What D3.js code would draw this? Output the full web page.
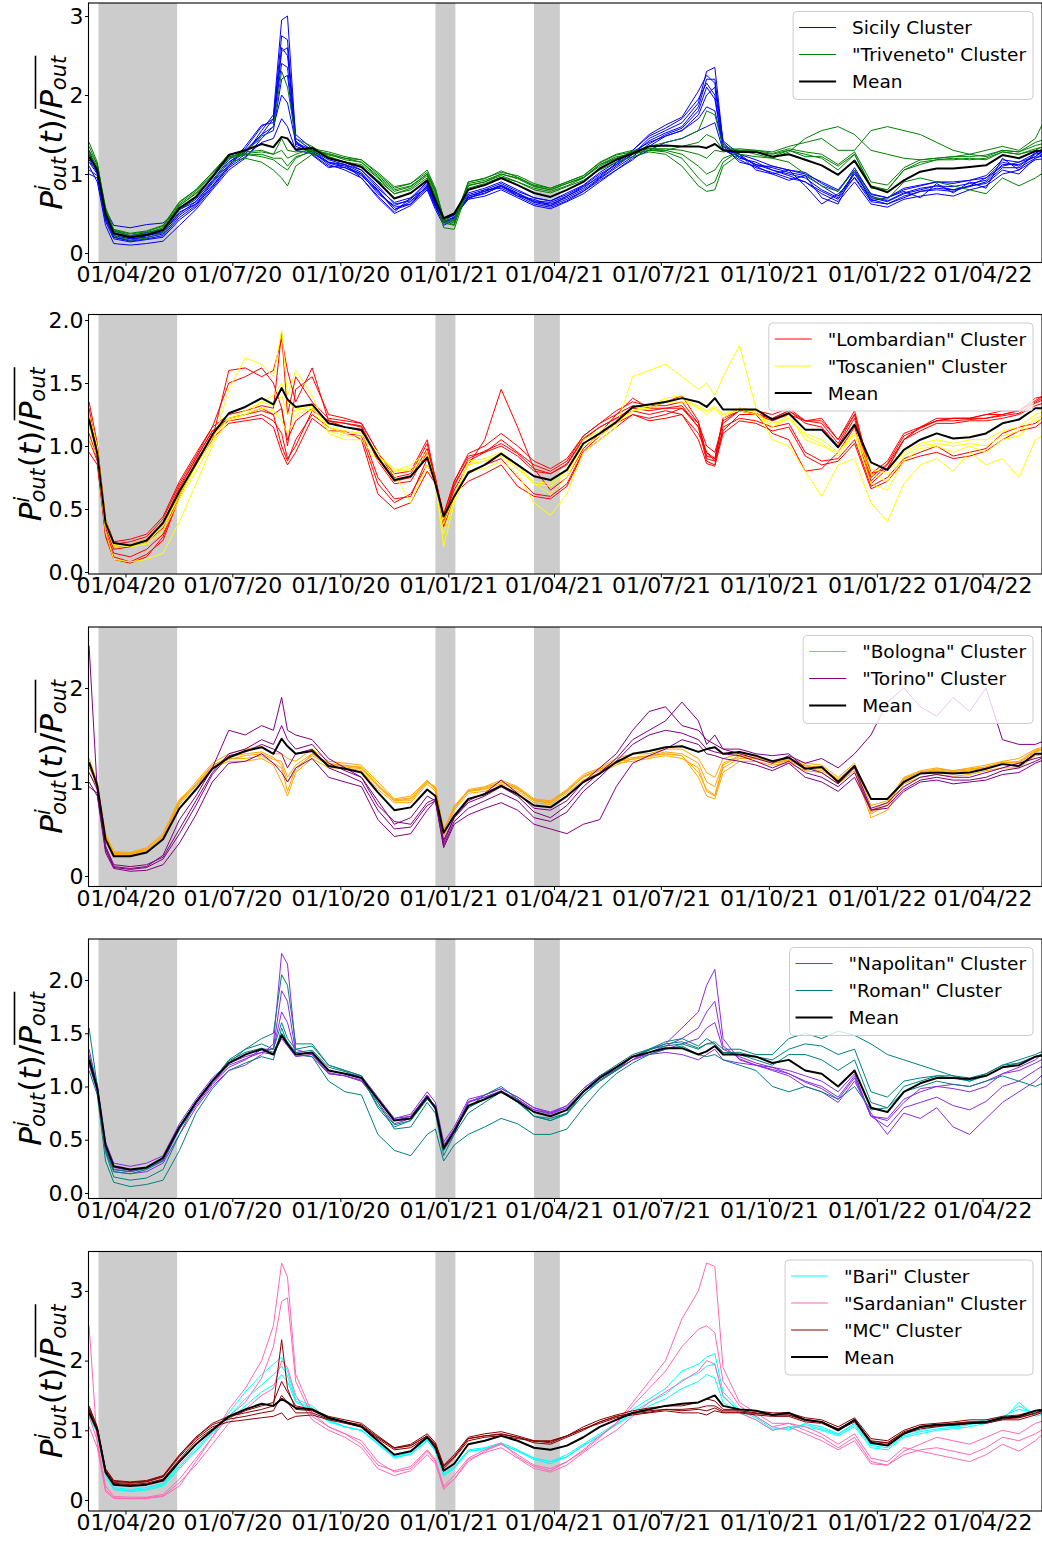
<!DOCTYPE html>
<html>
<head>
<meta charset="utf-8">
<script src="https://cdn.jsdelivr.net/npm/d3@7"></script>
<style>
  body { margin: 0; background: #fff; }
  svg text { font-family: "DejaVu Sans", sans-serif; }
</style>
</head>
<body>
<svg id="chart" width="1042" height="1541"></svg>
<script>
// Sample dates shared by every series
const dates = [
  "2020-03-01","2020-03-08","2020-03-15","2020-03-22","2020-04-05","2020-04-19","2020-05-03","2020-05-17","2020-05-31","2020-06-14","2020-06-28",
  "2020-07-12","2020-07-26","2020-08-05","2020-08-12","2020-08-17","2020-08-24","2020-09-07","2020-09-21","2020-10-05","2020-10-19","2020-11-02",
  "2020-11-16","2020-11-30","2020-12-14","2020-12-21","2020-12-28","2021-01-06","2021-01-18","2021-02-01","2021-02-15","2021-03-01","2021-03-15",
  "2021-03-29","2021-04-12","2021-04-26","2021-05-10","2021-05-24","2021-06-07","2021-06-21","2021-07-05","2021-07-19","2021-08-02","2021-08-09",
  "2021-08-16","2021-08-23","2021-09-06","2021-09-20","2021-10-04","2021-10-18","2021-11-01","2021-11-15","2021-11-29","2021-12-13","2021-12-27",
  "2022-01-10","2022-01-24","2022-02-07","2022-02-21","2022-03-07","2022-03-21","2022-04-04","2022-04-18","2022-05-02","2022-05-16","2022-05-26"
];

// restriction periods (grey bands)
const shadedPeriods = [["2020-03-09", "2020-05-15"], ["2020-12-21", "2021-01-07"], ["2021-03-15", "2021-04-06"]];
const xTickDates = ["2020-04-01","2020-07-01","2020-10-01","2021-01-01","2021-04-01","2021-07-01","2021-10-01","2022-01-01","2022-04-01"];
const xLimits = ["2020-02-29T12:00", "2022-05-21T16:00"];

// y limits and ticks per panel
const yLimits = [[-0.120, 3.165], [-0.016, 2.044], [-0.112, 2.649], [-0.052, 2.385], [-0.158, 3.565]];
const yTicks1 = [0, 1, 2, 3];
const yTicks2 = [0.0, 0.5, 1.0, 1.5, 2.0];
const yTicks3 = [0, 1, 2];
const yTicks4 = [0.0, 0.5, 1.0, 1.5, 2.0];
const yTicks5 = [0, 1, 2, 3];

// ---- Panel 1: Sicily / Triveneto ----
const mean1 = [
  1.22,1.05,0.50,0.25,0.20,0.23,0.29,0.57,0.71,0.96,1.24,
  1.30,1.38,1.34,1.47,1.45,1.31,1.33,1.20,1.15,1.09,0.90,
  0.69,0.76,0.92,0.67,0.44,0.50,0.80,0.86,0.95,0.86,0.76,
  0.71,0.80,0.90,1.07,1.18,1.26,1.35,1.36,1.35,1.35,1.33,
  1.38,1.30,1.28,1.28,1.22,1.25,1.18,1.11,0.99,1.17,0.84,
  0.77,0.92,1.03,1.07,1.07,1.09,1.11,1.24,1.20,1.29,1.30
];
const sicily = [
  [1.30,1.00,0.45,0.20,0.15,0.18,0.22,0.45,0.60,0.85,1.10,
   1.25,1.55,1.75,2.95,3.00,1.45,1.30,1.15,1.10,1.00,0.80,
   0.55,0.65,0.85,0.60,0.40,0.45,0.70,0.75,0.85,0.75,0.65,
   0.62,0.70,0.80,0.95,1.10,1.25,1.45,1.55,1.65,1.90,2.30,
   2.35,1.40,1.20,1.15,1.05,1.00,0.95,0.80,0.70,1.00,0.70,
   0.65,0.75,0.80,0.85,0.80,0.85,0.95,1.15,1.10,1.25,1.30],
  [1.10,0.90,0.35,0.12,0.10,0.12,0.15,0.35,0.55,0.80,1.05,
   1.20,1.45,1.60,2.55,2.60,1.35,1.28,1.12,1.05,0.95,0.70,
   0.50,0.60,0.80,0.55,0.35,0.42,0.72,0.78,0.85,0.72,0.62,
   0.58,0.66,0.78,0.92,1.05,1.18,1.35,1.48,1.55,1.75,2.00,
   2.10,1.35,1.15,1.10,1.00,1.05,0.85,0.62,0.75,0.95,0.65,
   0.62,0.70,0.78,0.80,0.78,0.85,0.88,1.05,1.00,1.20,1.25],
  [1.15,1.00,0.55,0.35,0.32,0.36,0.38,0.55,0.65,0.90,1.15,
   1.30,1.50,1.60,2.00,1.90,1.40,1.25,1.10,1.08,1.00,0.75,
   0.60,0.68,0.88,0.63,0.42,0.48,0.74,0.80,0.88,0.78,0.70,
   0.66,0.74,0.85,1.00,1.12,1.28,1.40,1.48,1.55,1.70,1.85,
   1.80,1.35,1.25,1.10,1.10,1.05,1.00,0.90,0.80,1.05,0.75,
   0.70,0.80,0.85,0.90,0.88,0.92,0.95,1.10,1.15,1.22,1.35],
  [1.00,0.95,0.40,0.18,0.14,0.17,0.20,0.42,0.58,0.82,1.08,
   1.22,1.40,1.45,1.70,1.60,1.30,1.26,1.15,1.12,1.02,0.78,
   0.58,0.62,0.82,0.58,0.38,0.46,0.68,0.72,0.80,0.70,0.60,
   0.56,0.65,0.75,0.90,1.05,1.20,1.30,1.40,1.45,1.55,1.60,
   1.65,1.30,1.22,1.12,1.05,0.98,0.90,0.75,0.65,0.90,0.62,
   0.58,0.68,0.72,0.75,0.72,0.80,0.85,1.00,1.05,1.18,1.20],
  [1.25,1.05,0.42,0.22,0.18,0.20,0.24,0.48,0.62,0.88,1.12,
   1.28,1.50,1.70,2.75,2.70,1.40,1.30,1.18,1.12,1.05,0.85,
   0.62,0.66,0.84,0.62,0.40,0.44,0.72,0.78,0.86,0.76,0.66,
   0.64,0.72,0.82,0.98,1.12,1.25,1.42,1.52,1.60,1.85,2.20,
   2.20,1.38,1.22,1.12,1.08,1.02,0.98,0.85,0.72,1.02,0.72,
   0.66,0.76,0.82,0.85,0.84,0.88,0.92,1.12,1.12,1.22,1.32],
  [1.18,1.02,0.48,0.24,0.19,0.22,0.27,0.50,0.65,0.90,1.15,
   1.28,1.48,1.55,2.20,2.25,1.38,1.28,1.14,1.08,0.98,0.78,
   0.55,0.62,0.86,0.60,0.38,0.44,0.70,0.76,0.84,0.74,0.64,
   0.60,0.68,0.78,0.94,1.08,1.22,1.38,1.50,1.58,1.80,2.10,
   1.95,1.32,1.18,1.08,1.02,0.95,0.90,0.78,0.68,0.96,0.68,
   0.62,0.72,0.78,0.82,0.80,0.84,0.90,1.08,1.08,1.20,1.28],
  [1.05,0.98,0.46,0.20,0.16,0.22,0.26,0.52,0.62,0.84,1.10,
   1.35,1.62,1.65,2.40,2.35,1.42,1.24,1.08,1.12,0.95,0.72,
   0.52,0.70,0.82,0.64,0.42,0.48,0.68,0.80,0.82,0.72,0.68,
   0.60,0.72,0.84,0.96,1.14,1.30,1.48,1.58,1.70,1.95,2.15,
   2.00,1.30,1.25,1.05,1.00,0.92,0.98,0.70,0.62,1.05,0.66,
   0.70,0.78,0.70,0.88,0.76,0.90,0.82,1.20,1.05,1.28,1.22],
  [1.20,1.08,0.52,0.28,0.22,0.26,0.30,0.55,0.68,0.92,1.18,
   1.32,1.60,1.70,2.60,2.50,1.50,1.32,1.20,1.15,1.05,0.82,
   0.64,0.70,0.90,0.64,0.44,0.50,0.76,0.82,0.90,0.80,0.70,
   0.66,0.76,0.86,1.02,1.15,1.30,1.50,1.62,1.72,2.05,2.25,
   2.15,1.42,1.25,1.18,1.10,1.05,1.02,0.88,0.78,1.08,0.74,
   0.70,0.82,0.86,0.90,0.90,0.92,0.98,1.18,1.15,1.26,1.36]
];
const triveneto = [
  [1.25,1.10,0.55,0.28,0.22,0.25,0.32,0.62,0.78,1.00,1.22,
   1.25,1.22,1.18,1.10,1.05,1.20,1.30,1.25,1.18,1.15,0.98,
   0.80,0.85,1.00,0.78,0.45,0.40,0.88,0.92,1.00,0.95,0.85,
   0.80,0.88,0.95,1.12,1.22,1.25,1.30,1.28,1.20,0.95,0.85,
   0.90,1.15,1.30,1.28,1.25,1.30,1.25,1.20,1.05,1.25,0.85,
   0.80,1.05,1.15,1.18,1.20,1.18,1.20,1.28,1.25,1.32,1.35],
  [1.40,1.15,0.50,0.25,0.20,0.24,0.30,0.60,0.75,0.95,1.20,
   1.30,1.45,1.60,2.30,2.10,1.45,1.35,1.22,1.15,1.12,0.95,
   0.75,0.82,0.98,0.72,0.38,0.35,0.85,0.90,0.98,0.90,0.82,
   0.78,0.85,0.95,1.10,1.20,1.28,1.35,1.40,1.45,1.55,1.80,
   1.75,1.35,1.30,1.25,1.20,1.28,1.45,1.55,1.60,1.50,1.30,
   1.25,1.20,1.18,1.20,1.22,1.25,1.22,1.30,1.28,1.40,1.45],
  [1.15,1.05,0.48,0.22,0.16,0.19,0.26,0.55,0.70,0.90,1.15,
   1.20,1.15,1.05,0.95,0.85,1.10,1.25,1.22,1.15,1.10,0.92,
   0.75,0.80,0.95,0.72,0.32,0.30,0.82,0.88,0.96,0.90,0.80,
   0.76,0.84,0.92,1.05,1.15,1.22,1.28,1.25,1.10,0.85,0.78,
   0.80,1.10,1.25,1.22,1.20,1.15,1.00,0.85,0.78,1.05,0.70,
   0.68,0.90,0.95,0.90,0.85,0.80,0.75,0.95,0.85,0.95,1.05],
  [1.30,1.12,0.58,0.30,0.25,0.28,0.35,0.65,0.80,1.02,1.25,
   1.28,1.30,1.25,1.30,1.20,1.25,1.32,1.28,1.22,1.18,1.00,
   0.82,0.88,1.02,0.80,0.42,0.38,0.90,0.95,1.02,0.98,0.88,
   0.82,0.90,0.98,1.15,1.25,1.30,1.32,1.30,1.35,1.40,1.50,
   1.45,1.30,1.32,1.30,1.28,1.35,1.40,1.45,1.30,1.30,1.55,
   1.60,1.55,1.50,1.40,1.30,1.25,1.30,1.35,1.30,1.45,1.75],
  [1.28,1.08,0.52,0.26,0.20,0.23,0.30,0.60,0.76,0.98,1.20,
   1.24,1.25,1.20,1.20,1.10,1.22,1.28,1.24,1.20,1.15,0.96,
   0.78,0.84,1.00,0.76,0.40,0.36,0.86,0.90,1.00,0.94,0.84,
   0.80,0.88,0.96,1.12,1.20,1.26,1.30,1.30,1.25,1.10,1.00,
   1.05,1.20,1.28,1.28,1.22,1.30,1.22,1.22,1.10,1.25,0.82,
   0.80,1.05,1.12,1.18,1.18,1.20,1.18,1.28,1.25,1.30,1.38],
  [1.35,1.12,0.55,0.29,0.24,0.27,0.34,0.64,0.80,1.02,1.22,
   1.26,1.28,1.25,1.45,1.30,1.28,1.30,1.26,1.20,1.18,1.02,
   0.84,0.88,1.05,0.82,0.44,0.42,0.90,0.94,1.04,0.96,0.86,
   0.82,0.90,0.98,1.14,1.24,1.28,1.32,1.32,1.30,1.25,1.20,
   1.30,1.28,1.30,1.30,1.26,1.32,1.28,1.25,1.12,1.28,0.90,
   0.86,1.08,1.18,1.20,1.22,1.22,1.24,1.30,1.28,1.36,1.40]
];

// ---- Panel 2: Lombardian / Toscanien ----
const mean2 = [
  1.21,0.94,0.39,0.23,0.21,0.25,0.39,0.64,0.86,1.09,1.26,
  1.31,1.38,1.33,1.46,1.37,1.31,1.33,1.18,1.15,1.13,0.91,
  0.73,0.76,0.91,0.70,0.44,0.60,0.79,0.85,0.94,0.85,0.76,
  0.73,0.81,1.02,1.10,1.19,1.31,1.33,1.35,1.38,1.35,1.31,
  1.38,1.29,1.29,1.29,1.21,1.26,1.13,1.13,0.99,1.17,0.87,
  0.81,0.97,1.05,1.10,1.06,1.07,1.10,1.18,1.21,1.30,1.30
];
const lombardian = [
  [1.30,0.95,0.35,0.18,0.20,0.24,0.35,0.66,0.90,1.12,1.20,
   1.22,1.25,1.20,1.10,0.90,1.00,1.28,1.20,1.18,1.15,0.88,
   0.70,0.72,0.95,0.75,0.40,0.70,0.88,0.95,1.00,0.92,0.80,
   0.78,0.85,1.05,1.15,1.22,1.28,1.25,1.28,1.25,1.10,0.95,
   0.88,1.12,1.25,1.25,1.22,1.28,1.18,1.15,1.00,1.22,0.72,
   0.85,1.05,1.12,1.18,1.18,1.20,1.20,1.22,1.25,1.32,1.35],
  [1.10,0.90,0.30,0.12,0.08,0.14,0.25,0.60,0.85,1.05,1.60,
   1.62,1.55,1.60,1.85,1.60,1.35,1.62,1.20,1.15,1.12,0.75,
   0.58,0.60,0.90,0.72,0.42,0.65,0.85,1.05,1.45,1.15,0.82,
   0.65,0.75,0.98,1.10,1.25,1.38,1.30,1.35,1.40,1.20,0.90,
   0.88,1.20,1.28,1.25,1.20,1.25,1.20,1.22,1.05,1.25,0.78,
   0.82,1.05,1.15,1.22,1.22,1.22,1.25,1.25,1.28,1.35,1.40],
  [0.95,0.85,0.32,0.15,0.12,0.18,0.30,0.62,0.88,1.08,1.22,
   1.25,1.30,1.25,1.00,0.88,1.05,1.25,1.15,1.10,1.08,0.70,
   0.55,0.62,0.85,0.72,0.38,0.62,0.72,0.78,0.85,0.68,0.60,
   0.58,0.68,0.95,1.05,1.15,1.25,1.22,1.25,1.30,1.15,0.88,
   0.85,1.15,1.22,1.20,1.15,1.18,0.95,0.88,0.90,1.05,0.68,
   0.75,0.90,0.95,1.00,0.92,0.95,0.98,1.10,1.15,1.18,1.25],
  [1.25,1.00,0.40,0.22,0.24,0.28,0.42,0.70,0.92,1.15,1.25,
   1.28,1.32,1.30,1.90,1.25,1.55,1.35,1.22,1.20,1.18,0.95,
   0.75,0.78,1.02,0.72,0.45,0.72,0.92,0.95,1.05,0.95,0.85,
   0.80,0.88,1.08,1.18,1.25,1.32,1.30,1.30,1.32,1.15,0.95,
   0.90,1.22,1.30,1.28,1.25,1.30,1.20,1.20,1.05,1.28,0.78,
   0.88,1.10,1.15,1.20,1.22,1.22,1.22,1.25,1.28,1.38,1.40],
  [1.22,0.98,0.38,0.20,0.22,0.26,0.38,0.68,0.90,1.12,1.22,
   1.25,1.28,1.25,1.30,1.05,1.20,1.30,1.20,1.18,1.16,0.90,
   0.72,0.75,0.98,0.74,0.42,0.68,0.90,0.96,1.02,0.94,0.82,
   0.78,0.86,1.06,1.15,1.22,1.30,1.28,1.30,1.30,1.18,1.00,
   0.95,1.18,1.28,1.26,1.22,1.28,1.20,1.18,1.02,1.25,0.75,
   0.86,1.08,1.14,1.20,1.20,1.21,1.22,1.24,1.26,1.34,1.38],
  [1.05,0.88,0.28,0.10,0.07,0.12,0.28,0.60,0.86,1.06,1.18,
   1.20,1.22,1.15,0.95,0.85,0.95,1.22,1.12,1.12,1.05,0.62,
   0.50,0.55,0.80,0.70,0.36,0.60,0.78,0.85,0.90,0.75,0.62,
   0.60,0.70,0.96,1.08,1.18,1.25,1.20,1.22,1.25,1.05,0.86,
   0.84,1.10,1.20,1.18,1.12,1.15,0.92,0.85,0.88,1.02,0.66,
   0.72,0.88,0.92,0.95,0.90,0.92,0.96,1.05,1.12,1.15,1.22],
  [1.35,1.02,0.42,0.24,0.26,0.30,0.44,0.72,0.94,1.15,1.50,
   1.55,1.62,1.50,1.30,1.00,1.45,1.55,1.25,1.22,1.18,0.95,
   0.78,0.80,1.05,0.74,0.46,0.72,0.94,1.00,1.10,1.00,0.88,
   0.82,0.90,1.08,1.18,1.28,1.35,1.32,1.32,1.35,1.18,0.92,
   0.90,1.22,1.28,1.25,1.10,1.05,0.80,0.82,0.95,1.15,0.70,
   0.82,1.05,1.15,1.20,1.22,1.22,1.25,1.28,1.28,1.36,1.42]
];
const toscanien = [
  [1.15,0.95,0.38,0.20,0.22,0.26,0.38,0.62,0.85,1.08,1.22,
   1.25,1.30,1.28,1.20,1.10,1.25,1.30,1.15,1.12,1.10,0.95,
   0.80,0.85,0.95,0.70,0.42,0.62,0.85,0.88,0.92,0.82,0.72,
   0.70,0.80,1.05,1.12,1.20,1.28,1.30,1.35,1.35,1.32,1.28,
   1.30,1.25,1.28,1.25,1.18,1.22,1.10,1.05,0.95,1.12,0.82,
   0.78,0.95,1.02,1.05,1.02,1.05,1.05,1.12,1.15,1.25,1.28],
  [1.05,0.92,0.32,0.10,0.08,0.10,0.15,0.40,0.70,1.00,1.45,
   1.70,1.65,1.55,1.92,1.40,1.60,1.40,1.10,1.05,1.05,0.88,
   0.78,0.55,0.85,0.72,0.20,0.55,0.80,0.82,0.88,0.78,0.55,
   0.45,0.62,0.95,1.05,1.15,1.55,1.60,1.65,1.55,1.45,1.50,
   1.40,1.55,1.80,1.30,1.05,1.00,0.80,0.60,0.85,0.90,0.55,
   0.40,0.70,0.85,0.90,0.80,0.95,0.85,0.90,0.75,1.05,1.10],
  [1.25,1.00,0.42,0.22,0.20,0.22,0.32,0.58,0.80,1.02,1.20,
   1.25,1.35,1.40,1.50,1.35,1.30,1.28,1.12,1.08,1.08,0.92,
   0.82,0.80,0.90,0.68,0.30,0.58,0.88,0.90,0.95,0.85,0.70,
   0.62,0.75,1.00,1.08,1.18,1.28,1.32,1.38,1.40,1.30,1.25,
   1.30,1.22,1.30,1.28,1.15,1.25,1.05,1.00,0.95,1.10,0.70,
   0.65,0.88,0.98,1.00,0.95,1.00,0.95,1.05,1.08,1.20,1.22],
  [1.18,0.96,0.40,0.22,0.20,0.24,0.36,0.60,0.84,1.06,1.22,
   1.28,1.35,1.32,1.40,1.25,1.28,1.32,1.15,1.10,1.10,0.92,
   0.80,0.82,0.92,0.70,0.38,0.60,0.86,0.88,0.94,0.82,0.70,
   0.68,0.78,1.02,1.10,1.18,1.28,1.32,1.36,1.38,1.30,1.28,
   1.32,1.25,1.30,1.26,1.15,1.22,1.08,1.02,0.92,1.10,0.78,
   0.72,0.92,1.00,1.02,1.00,1.02,1.00,1.08,1.12,1.22,1.25]
];

// ---- Panel 3: Bologna / Torino ----
const mean3 = [
  1.21,0.96,0.39,0.21,0.21,0.25,0.39,0.72,0.92,1.14,1.26,
  1.33,1.37,1.30,1.46,1.38,1.30,1.33,1.17,1.14,1.10,0.89,
  0.70,0.73,0.92,0.85,0.46,0.64,0.82,0.87,0.96,0.87,0.75,
  0.73,0.85,1.00,1.09,1.21,1.30,1.33,1.37,1.38,1.32,1.35,
  1.37,1.30,1.32,1.28,1.22,1.26,1.14,1.16,1.00,1.17,0.82,
  0.82,1.00,1.09,1.10,1.09,1.10,1.14,1.19,1.17,1.30,1.30
];
const bologna = [
  [1.15,0.98,0.42,0.24,0.24,0.28,0.40,0.78,0.98,1.18,1.25,
   1.25,1.28,1.20,1.15,0.90,1.15,1.28,1.18,1.18,1.15,0.95,
   0.80,0.80,1.00,0.95,0.45,0.75,0.90,0.92,0.98,0.92,0.80,
   0.78,0.90,1.05,1.12,1.20,1.22,1.25,1.28,1.25,1.15,0.90,
   0.85,1.15,1.25,1.25,1.20,1.22,1.15,1.12,1.02,1.15,0.68,
   0.75,1.02,1.10,1.12,1.10,1.12,1.15,1.20,1.20,1.32,1.35],
  [1.25,1.00,0.40,0.25,0.22,0.26,0.42,0.80,1.00,1.20,1.30,
   1.35,1.38,1.30,1.30,1.25,1.22,1.35,1.22,1.20,1.18,1.00,
   0.82,0.85,1.02,0.92,0.50,0.72,0.92,0.95,1.02,0.95,0.82,
   0.80,0.92,1.08,1.15,1.25,1.30,1.30,1.35,1.35,1.25,1.10,
   1.05,1.25,1.30,1.28,1.22,1.25,1.20,1.18,1.05,1.20,0.75,
   0.80,1.05,1.12,1.15,1.12,1.15,1.18,1.22,1.25,1.35,1.38],
  [1.10,0.95,0.45,0.26,0.25,0.30,0.45,0.82,0.95,1.15,1.22,
   1.22,1.25,1.18,1.00,0.85,1.10,1.25,1.15,1.15,1.12,0.92,
   0.78,0.78,0.98,0.90,0.42,0.70,0.88,0.90,0.95,0.90,0.78,
   0.76,0.88,1.02,1.10,1.18,1.25,1.28,1.30,1.28,1.05,0.85,
   0.82,1.10,1.22,1.22,1.18,1.20,1.12,1.10,0.98,1.12,0.62,
   0.70,0.98,1.05,1.08,1.06,1.08,1.12,1.15,1.15,1.28,1.30],
  [1.20,0.97,0.41,0.23,0.23,0.27,0.41,0.76,0.96,1.16,1.24,
   1.28,1.30,1.24,1.22,1.05,1.18,1.30,1.20,1.16,1.14,0.96,
   0.80,0.82,1.00,0.94,0.48,0.72,0.90,0.94,1.00,0.94,0.80,
   0.78,0.90,1.06,1.14,1.22,1.26,1.28,1.32,1.30,1.20,1.00,
   0.95,1.20,1.28,1.26,1.20,1.24,1.18,1.15,1.03,1.18,0.70,
   0.78,1.04,1.10,1.14,1.12,1.14,1.16,1.20,1.22,1.34,1.36],
  [1.18,0.96,0.43,0.25,0.24,0.29,0.43,0.79,0.97,1.17,1.27,
   1.30,1.32,1.26,1.18,1.00,1.12,1.30,1.20,1.17,1.16,0.97,
   0.81,0.83,1.01,0.93,0.47,0.74,0.91,0.93,1.00,0.93,0.81,
   0.79,0.91,1.06,1.13,1.22,1.24,1.27,1.30,1.28,1.10,0.92,
   0.86,1.18,1.27,1.26,1.21,1.23,1.17,1.14,1.02,1.16,0.66,
   0.76,1.03,1.11,1.13,1.11,1.13,1.16,1.21,1.21,1.33,1.36]
];
const torino = [
  [2.45,0.90,0.30,0.10,0.08,0.10,0.22,0.60,0.85,1.15,1.55,
   1.50,1.60,1.55,1.90,1.55,1.50,1.45,1.25,1.15,1.05,0.80,
   0.55,0.62,0.85,0.80,0.38,0.62,0.80,0.88,1.02,0.88,0.72,
   0.70,0.80,1.00,1.15,1.30,1.55,1.75,1.80,1.60,1.55,1.45,
   1.40,1.35,1.35,1.30,1.28,1.30,1.15,1.10,0.98,1.15,0.72,
   0.78,0.95,1.05,1.08,1.05,1.05,1.10,1.15,1.20,1.25,1.28],
  [1.00,0.85,0.25,0.08,0.05,0.06,0.12,0.35,0.65,1.00,1.20,
   1.22,1.30,1.20,1.10,1.00,1.15,1.25,1.05,1.00,0.95,0.60,
   0.42,0.45,0.70,0.80,0.30,0.55,0.65,0.72,0.78,0.70,0.55,
   0.50,0.45,0.55,0.60,0.95,1.20,1.28,1.35,1.45,1.40,1.30,
   1.28,1.25,1.22,1.18,1.12,1.20,1.05,1.00,0.90,1.05,0.70,
   0.72,0.90,1.00,1.02,0.98,1.00,1.02,1.08,1.10,1.20,1.25],
  [1.10,0.92,0.32,0.12,0.10,0.12,0.20,0.50,0.80,1.10,1.30,
   1.35,1.45,1.40,1.60,1.45,1.35,1.40,1.20,1.12,1.05,0.75,
   0.58,0.55,0.78,0.82,0.35,0.62,0.78,0.85,0.95,0.85,0.68,
   0.62,0.75,0.95,1.10,1.25,1.45,1.55,1.65,1.85,1.65,1.40,
   1.50,1.35,1.30,1.25,1.20,1.28,1.20,1.25,1.15,1.30,1.50,
   1.85,2.00,1.80,1.70,1.90,1.75,2.00,1.45,1.40,1.40,1.45],
  [0.95,0.88,0.28,0.09,0.07,0.09,0.18,0.45,0.75,1.08,1.28,
   1.32,1.40,1.35,1.30,1.15,1.30,1.35,1.15,1.08,1.00,0.70,
   0.50,0.52,0.75,0.80,0.32,0.58,0.72,0.80,0.88,0.80,0.62,
   0.58,0.68,0.90,1.05,1.22,1.40,1.50,1.55,1.52,1.45,1.35,
   1.32,1.30,1.28,1.22,1.15,1.22,1.10,1.05,0.95,1.10,0.70,
   0.75,0.92,1.02,1.05,1.02,1.02,1.05,1.12,1.15,1.22,1.28]
];

// ---- Panel 4: Napolitan / Roman ----
const mean4 = [
  1.25,0.98,0.45,0.25,0.22,0.24,0.33,0.62,0.85,1.05,1.22,
  1.30,1.35,1.30,1.48,1.40,1.30,1.32,1.15,1.12,1.08,0.88,
  0.68,0.70,0.90,0.80,0.42,0.58,0.82,0.88,0.95,0.86,0.76,
  0.72,0.78,0.95,1.08,1.18,1.28,1.32,1.36,1.36,1.30,1.33,
  1.38,1.30,1.30,1.28,1.22,1.25,1.15,1.12,1.00,1.15,0.80,
  0.76,0.95,1.03,1.08,1.08,1.07,1.10,1.18,1.20,1.28,1.30
];
const napolitan = [
  [1.35,1.00,0.40,0.20,0.18,0.20,0.28,0.55,0.80,1.00,1.15,
   1.20,1.30,1.40,2.25,2.15,1.35,1.30,1.12,1.10,1.05,0.85,
   0.65,0.70,0.92,0.78,0.40,0.55,0.85,0.92,0.98,0.90,0.80,
   0.75,0.82,0.98,1.10,1.15,1.25,1.35,1.40,1.55,1.70,1.95,
   2.10,1.45,1.25,1.20,1.15,1.10,1.00,0.95,0.85,1.05,0.75,
   0.55,0.75,0.70,0.80,0.62,0.55,0.70,0.85,0.95,1.05,1.15],
  [1.20,0.95,0.42,0.22,0.20,0.24,0.30,0.60,0.82,1.02,1.18,
   1.25,1.35,1.35,1.70,1.60,1.30,1.28,1.12,1.10,1.05,0.88,
   0.70,0.72,0.92,0.80,0.45,0.60,0.85,0.90,0.95,0.88,0.78,
   0.75,0.80,0.95,1.05,1.15,1.25,1.30,1.35,1.40,1.45,1.55,
   1.60,1.35,1.28,1.22,1.18,1.12,1.05,1.00,0.90,1.10,0.72,
   0.70,0.88,0.95,1.00,0.98,0.95,1.00,1.12,1.15,1.22,1.28],
  [1.28,1.02,0.48,0.28,0.25,0.28,0.35,0.65,0.88,1.08,1.22,
   1.28,1.32,1.30,1.45,1.38,1.28,1.30,1.15,1.12,1.10,0.90,
   0.70,0.74,0.95,0.85,0.48,0.62,0.88,0.92,0.98,0.90,0.80,
   0.76,0.82,0.98,1.10,1.18,1.28,1.30,1.32,1.30,1.25,1.30,
   1.35,1.25,1.22,1.20,1.18,1.15,1.10,1.05,0.95,1.12,0.72,
   0.68,0.85,0.98,1.00,1.02,1.00,1.05,1.12,1.18,1.25,1.35],
  [1.22,0.98,0.44,0.24,0.21,0.23,0.31,0.60,0.84,1.03,1.20,
   1.26,1.32,1.36,1.90,1.80,1.32,1.30,1.13,1.10,1.06,0.87,
   0.68,0.72,0.92,0.80,0.44,0.58,0.86,0.90,0.96,0.88,0.78,
   0.74,0.80,0.96,1.08,1.16,1.25,1.32,1.38,1.45,1.55,1.70,
   1.80,1.38,1.26,1.20,1.16,1.12,1.04,0.98,0.88,1.08,0.72,
   0.62,0.80,0.85,0.90,0.82,0.78,0.86,1.00,1.05,1.15,1.22]
];
const roman = [
  [1.55,1.00,0.38,0.15,0.12,0.14,0.22,0.55,0.85,1.05,1.25,
   1.35,1.45,1.50,2.05,1.95,1.40,1.40,1.20,1.15,1.10,0.85,
   0.60,0.62,0.85,0.75,0.35,0.55,0.75,0.85,0.95,0.85,0.72,
   0.70,0.75,0.95,1.10,1.20,1.30,1.35,1.38,1.40,1.35,1.40,
   1.42,1.35,1.35,1.30,1.30,1.45,1.50,1.45,1.52,1.48,1.40,
   1.30,1.25,1.20,1.15,1.10,1.05,1.12,1.20,1.25,1.30,1.35],
  [1.15,0.92,0.30,0.10,0.06,0.08,0.12,0.40,0.75,0.98,1.15,
   1.22,1.28,1.25,1.55,1.40,1.30,1.28,1.05,0.95,0.92,0.55,
   0.40,0.35,0.55,0.60,0.30,0.45,0.55,0.62,0.70,0.65,0.55,
   0.55,0.60,0.80,0.98,1.12,1.22,1.30,1.35,1.38,1.30,1.28,
   1.30,1.25,1.20,1.15,1.00,0.95,1.00,0.95,0.88,1.00,0.78,
   0.80,0.95,1.00,1.05,1.02,1.00,1.05,1.10,1.05,1.00,1.05],
  [1.25,0.98,0.40,0.20,0.18,0.22,0.30,0.60,0.85,1.05,1.22,
   1.35,1.40,1.35,1.60,1.45,1.35,1.38,1.20,1.15,1.10,0.80,
   0.62,0.68,0.90,0.82,0.40,0.58,0.80,0.92,1.00,0.88,0.72,
   0.68,0.75,0.92,1.05,1.15,1.28,1.35,1.42,1.45,1.38,1.45,
   1.40,1.32,1.30,1.25,1.20,1.30,1.30,1.25,1.15,1.25,0.85,
   0.80,1.00,1.05,1.10,1.10,1.08,1.12,1.20,1.22,1.28,1.32],
  [1.30,1.00,0.42,0.22,0.20,0.23,0.32,0.62,0.86,1.06,1.24,
   1.32,1.36,1.32,1.50,1.42,1.32,1.34,1.18,1.14,1.08,0.82,
   0.64,0.68,0.88,0.80,0.40,0.58,0.80,0.88,0.96,0.86,0.72,
   0.68,0.74,0.92,1.06,1.16,1.28,1.34,1.40,1.42,1.36,1.40,
   1.40,1.32,1.32,1.28,1.25,1.35,1.40,1.38,1.30,1.35,0.95,
   0.90,1.05,1.08,1.10,1.08,1.05,1.10,1.18,1.22,1.28,1.32]
];

// ---- Panel 5: Bari / Sardanian / MC ----
const mean5 = [
  1.25,1.00,0.40,0.22,0.20,0.22,0.28,0.55,0.80,1.00,1.20,
  1.30,1.38,1.35,1.45,1.40,1.32,1.30,1.18,1.12,1.05,0.85,
  0.65,0.70,0.90,0.75,0.42,0.52,0.80,0.85,0.92,0.85,0.75,
  0.72,0.78,0.90,1.05,1.15,1.25,1.30,1.35,1.38,1.40,1.45,
  1.50,1.35,1.30,1.28,1.22,1.25,1.15,1.12,1.00,1.15,0.82,
  0.78,0.95,1.05,1.08,1.08,1.10,1.12,1.18,1.20,1.28,1.30
];
const bari = [
  [1.30,1.00,0.35,0.15,0.12,0.14,0.20,0.45,0.70,0.95,1.25,
   1.55,1.80,1.95,2.05,1.85,1.45,1.35,1.15,1.05,1.00,0.80,
   0.62,0.65,0.85,0.70,0.35,0.45,0.70,0.72,0.80,0.70,0.60,
   0.55,0.65,0.80,0.95,1.10,1.30,1.45,1.60,1.85,1.95,2.05,
   2.10,1.55,1.30,1.20,1.05,1.00,1.10,1.05,0.95,1.10,0.80,
   0.78,0.95,1.00,1.05,1.05,1.10,1.15,1.20,1.30,1.25,1.30],
  [1.20,0.95,0.38,0.18,0.15,0.18,0.24,0.50,0.75,0.98,1.15,
   1.35,1.55,1.65,1.80,1.70,1.40,1.30,1.12,1.05,1.00,0.82,
   0.62,0.68,0.88,0.72,0.38,0.48,0.72,0.75,0.82,0.72,0.60,
   0.55,0.62,0.78,0.92,1.08,1.22,1.35,1.45,1.60,1.70,1.80,
   1.75,1.40,1.25,1.15,1.00,1.05,1.05,1.00,0.92,1.05,0.75,
   0.72,0.90,0.95,1.00,1.02,1.05,1.10,1.15,1.40,1.20,1.25],
  [1.25,0.98,0.36,0.16,0.13,0.16,0.22,0.48,0.72,0.96,1.20,
   1.45,1.65,1.80,1.92,1.78,1.42,1.32,1.14,1.05,1.00,0.80,
   0.60,0.66,0.86,0.70,0.36,0.46,0.70,0.74,0.80,0.70,0.58,
   0.52,0.62,0.78,0.92,1.08,1.26,1.40,1.52,1.72,1.82,1.92,
   1.95,1.48,1.28,1.18,1.02,1.02,1.08,1.02,0.94,1.08,0.78,
   0.75,0.92,0.98,1.02,1.04,1.08,1.12,1.18,1.35,1.22,1.28]
];
const sardanian = [
  [2.50,0.80,0.15,0.02,0.02,0.02,0.05,0.20,0.55,0.90,1.30,
   1.60,2.00,2.50,3.40,3.20,1.80,1.25,1.05,0.95,0.85,0.55,
   0.40,0.45,0.70,0.55,0.15,0.30,0.55,0.70,0.80,0.65,0.50,
   0.45,0.55,0.70,0.90,1.10,1.40,1.70,2.00,2.60,3.00,3.40,
   3.35,1.90,1.40,1.25,1.10,1.10,1.05,0.95,0.80,0.95,0.60,
   0.55,0.75,0.70,0.65,0.60,0.55,0.65,0.80,0.70,0.85,1.00],
  [1.20,0.85,0.20,0.05,0.04,0.04,0.08,0.30,0.60,0.90,1.20,
   1.40,1.75,2.20,2.85,2.90,1.70,1.20,1.05,0.95,0.80,0.50,
   0.42,0.48,0.72,0.58,0.20,0.35,0.60,0.72,0.82,0.62,0.48,
   0.42,0.55,0.72,0.92,1.10,1.35,1.60,1.85,2.20,2.45,2.50,
   2.40,1.70,1.35,1.20,1.05,1.10,1.00,0.90,0.75,0.90,0.55,
   0.50,0.70,0.80,0.90,0.85,0.80,0.90,1.00,0.95,1.10,1.15],
  [1.05,0.75,0.12,0.03,0.02,0.03,0.06,0.25,0.50,0.80,1.10,
   1.30,1.50,1.60,2.00,1.90,1.50,1.15,1.00,0.90,0.75,0.45,
   0.35,0.42,0.65,0.52,0.18,0.30,0.58,0.68,0.75,0.60,0.45,
   0.40,0.50,0.68,0.85,1.00,1.20,1.40,1.55,1.70,1.85,2.00,
   1.95,1.50,1.25,1.15,1.00,1.05,0.95,0.85,0.72,0.85,0.52,
   0.50,0.65,0.72,0.75,0.70,0.65,0.75,0.90,0.85,0.95,1.05]
];
const mcCluster = [
  [1.35,1.05,0.45,0.28,0.26,0.28,0.35,0.65,0.90,1.10,1.20,
   1.25,1.30,1.35,2.30,1.60,1.30,1.28,1.18,1.12,1.08,0.90,
   0.75,0.78,0.92,0.80,0.48,0.62,0.88,0.92,0.95,0.90,0.82,
   0.80,0.90,1.00,1.12,1.20,1.25,1.28,1.30,1.30,1.32,1.35,
   1.35,1.28,1.28,1.25,1.22,1.22,1.15,1.12,1.02,1.15,0.85,
   0.82,0.98,1.05,1.08,1.10,1.12,1.12,1.18,1.18,1.25,1.30],
  [1.30,1.00,0.42,0.25,0.24,0.26,0.33,0.62,0.88,1.05,1.12,
   1.15,1.18,1.20,1.25,1.15,1.20,1.22,1.15,1.10,1.05,0.88,
   0.72,0.75,0.90,0.78,0.45,0.60,0.85,0.90,0.92,0.88,0.85,
   0.85,0.92,1.02,1.10,1.18,1.22,1.25,1.28,1.25,1.25,1.22,
   1.28,1.25,1.25,1.22,1.20,1.20,1.12,1.10,1.00,1.12,0.82,
   0.80,0.95,1.02,1.05,1.08,1.10,1.10,1.15,1.15,1.22,1.28],
  [1.28,1.02,0.40,0.24,0.22,0.24,0.30,0.58,0.85,1.02,1.18,
   1.28,1.35,1.40,1.70,1.55,1.35,1.30,1.20,1.15,1.10,0.92,
   0.75,0.80,0.95,0.82,0.50,0.65,0.90,0.95,0.98,0.92,0.85,
   0.82,0.92,1.05,1.15,1.22,1.28,1.32,1.35,1.35,1.40,1.45,
   1.42,1.30,1.30,1.28,1.25,1.25,1.18,1.15,1.05,1.18,0.88,
   0.85,1.00,1.08,1.10,1.12,1.15,1.15,1.20,1.22,1.28,1.32],
  [1.32,1.04,0.44,0.27,0.25,0.27,0.34,0.64,0.90,1.08,1.16,
   1.20,1.25,1.28,1.50,1.40,1.25,1.25,1.16,1.12,1.06,0.90,
   0.74,0.78,0.92,0.80,0.48,0.62,0.88,0.92,0.94,0.90,0.84,
   0.84,0.92,1.02,1.12,1.20,1.24,1.26,1.30,1.28,1.30,1.28,
   1.32,1.26,1.26,1.24,1.22,1.22,1.14,1.12,1.02,1.14,0.84,
   0.82,0.96,1.04,1.06,1.10,1.12,1.12,1.16,1.18,1.24,1.30]
];

// ---- layout ----
const svg = d3.select("#chart");
const plotLeft = 88.5, plotRight = 1042;
const plotTops = [3, 314.5, 627, 939, 1251.5];
const plotH = 259.5;

const parseDay = d3.utcParse("%Y-%m-%d");
const parseTime = d3.utcParse("%Y-%m-%dT%H:%M");
const dateObjs = dates.map(parseDay);

const x = d3.scaleUtc()
  .domain(xLimits.map(parseTime))
  .range([plotLeft, plotRight]);

const panels = [
  { yTicks: yTicks1, fmt: d3.format("d"), mean: mean1, clusters: [
    { label: "Sicily Cluster", color: "#0000ff", series: sicily },
    { label: "\"Triveneto\" Cluster", color: "#008000", series: triveneto }] },
  { yTicks: yTicks2, fmt: d3.format(".1f"), mean: mean2, clusters: [
    { label: "\"Lombardian\" Cluster", color: "#ff0000", series: lombardian },
    { label: "\"Toscanien\" Cluster", color: "#ffff00", series: toscanien }] },
  { yTicks: yTicks3, fmt: d3.format("d"), mean: mean3, clusters: [
    { label: "\"Bologna\" Cluster", color: "#ffa500", series: bologna },
    { label: "\"Torino\" Cluster", color: "#800080", series: torino }] },
  { yTicks: yTicks4, fmt: d3.format(".1f"), mean: mean4, clusters: [
    { label: "\"Napolitan\" Cluster", color: "#8a2be2", series: napolitan },
    { label: "\"Roman\" Cluster", color: "#008080", series: roman }] },
  { yTicks: yTicks5, fmt: d3.format("d"), mean: mean5, clusters: [
    { label: "\"Bari\" Cluster", color: "#00ffff", series: bari },
    { label: "\"Sardanian\" Cluster", color: "#ff69b4", series: sardanian },
    { label: "\"MC\" Cluster", color: "#8b0000", series: mcCluster }] }
];

panels.forEach((p, i) => drawPanel(p, i));

function drawPanel(p, i) {
  const top = plotTops[i], bottom = top + plotH;
  const y = d3.scaleLinear().domain(yLimits[i]).range([bottom, top]);
  const g = svg.append("g");

  const clipId = "clip" + i;
  g.append("clipPath").attr("id", clipId)
    .append("rect")
      .attr("x", plotLeft).attr("y", top)
      .attr("width", plotRight - plotLeft).attr("height", plotH);

  const inner = g.append("g").attr("clip-path", `url(#${clipId})`);

  // grey bands
  inner.selectAll(".band")
    .data(shadedPeriods)
    .join("rect")
      .attr("class", "band")
      .attr("x", d => x(parseDay(d[0])))
      .attr("width", d => x(parseDay(d[1])) - x(parseDay(d[0])))
      .attr("y", top)
      .attr("height", plotH)
      .attr("fill", "#cccccc");

  const line = d3.line()
    .x((d, k) => x(dateObjs[k]))
    .y(d => y(d))
    .defined((d, k) => k < dateObjs.length);

  p.clusters.forEach(c => {
    inner.append("g").selectAll("path")
      .data(c.series)
      .join("path")
        .attr("d", line)
        .attr("fill", "none")
        .attr("stroke", c.color)
        .attr("stroke-width", 1)
        .attr("stroke-linejoin", "round");
  });

  inner.append("path")
    .attr("d", line(p.mean))
    .attr("fill", "none")
    .attr("stroke", "#000")
    .attr("stroke-width", 2)
    .attr("stroke-linejoin", "round");

  // axes
  const xAxis = d3.axisBottom(x)
    .tickValues(xTickDates.map(parseDay))
    .tickFormat(d3.utcFormat("%d/%m/%y"))
    .tickSize(3.5)
    .tickPadding(0);
  const gx = g.append("g")
    .attr("transform", `translate(0,${bottom})`)
    .call(xAxis);

  const yAxis = d3.axisLeft(y)
    .tickValues(p.yTicks)
    .tickFormat(p.fmt)
    .tickSize(3.5)
    .tickPadding(1.5);
  const gy = g.append("g")
    .attr("transform", `translate(${plotLeft},0)`)
    .call(yAxis);

  [gx, gy].forEach(a => {
    a.select(".domain").remove();
    a.selectAll("text").attr("font-size", 22).attr("fill", "#000")
      .attr("font-family", "DejaVu Sans");
    a.selectAll("line").attr("stroke", "#000").attr("stroke-width", 1);
  });

  // frame
  g.append("rect")
    .attr("x", plotLeft).attr("y", top)
    .attr("width", plotRight - plotLeft).attr("height", plotH)
    .attr("fill", "none")
    .attr("stroke", "#000")
    .attr("stroke-width", 1.1);

  // y label, placed left of the widest tick label
  let maxW = 0;
  gy.selectAll("text").each(function () { maxW = Math.max(maxW, this.getComputedTextLength()); });
  const labelX = plotLeft - 3.5 - 1.5 - maxW - 8;
  drawYLabel(g, labelX, top + plotH / 2);

  drawLegend(g, p, top);
}

// P^i_out(t) / overline{P_out}, drawn as a rotated run of text pieces
function drawYLabel(g, bx, cy) {
  const outer = g.append("g").attr("transform", `translate(${bx},${cy}) rotate(-90)`);
  const grp = outer.append("g");
  const big = 31, small = 21;
  const pieces = [
    { t: "P", s: big, it: true, dy: 0 },
    { t: "i", s: small, it: true, dy: -12, sup: true },
    { t: "out", s: small, it: true, dy: 4, sub: true },
    { t: "(", s: big, it: false, dy: 0 },
    { t: "t", s: big, it: true, dy: 0 },
    { t: ")", s: big, it: false, dy: 0 },
    { t: "/", s: big, it: false, dy: 0 },
    { t: "P", s: big, it: true, dy: 0, ov: "start" },
    { t: "out", s: small, it: true, dy: 4, ov: "end" }
  ];
  let cx = 0, supX = 0, supW = 0, ovStart = 0, ovEnd = 0;
  pieces.forEach(pc => {
    const px = pc.sub && supW ? supX : cx;
    const t = grp.append("text")
      .attr("x", px)
      .attr("y", pc.dy)
      .attr("font-size", pc.s)
      .attr("font-style", pc.it ? "italic" : "normal")
      .attr("fill", "#000")
      .text(pc.t);
    const w = t.node().getComputedTextLength();
    if (pc.sup) { supX = cx; supW = w; cx += w; return; }
    if (pc.sub) { cx = Math.max(supX + supW, px + w) + 1; supW = 0; return; }
    if (pc.ov === "start") ovStart = px;
    cx = px + w;
    if (pc.ov === "end") ovEnd = cx;
  });
  grp.append("line")
    .attr("x1", ovStart).attr("x2", ovEnd)
    .attr("y1", -26).attr("y2", -26)
    .attr("stroke", "#000").attr("stroke-width", 1.6);
  grp.attr("transform", `translate(${-cx / 2},0)`);
}

function drawLegend(g, p, top) {
  const items = p.clusters.map(c => ({ label: c.label, color: c.color, w: 1 }))
    .concat([{ label: "Mean", color: "#000", w: 2 }]);
  const fs = 18.5, rowH = 27, handleLen = 37;
  const lg = g.append("g");
  const box = lg.append("rect");
  const texts = lg.selectAll("text")
    .data(items)
    .join("text")
      .attr("font-size", fs)
      .attr("fill", "#000")
      .text(d => d.label);
  let maxW = 0;
  texts.each(function () { maxW = Math.max(maxW, this.getComputedTextLength()); });

  const boxRight = 1033;
  const boxLeft = boxRight - 7 - maxW - 16 - handleLen - 6;
  const boxTop = top + 8.5;
  const boxH = items.length * rowH + 7;
  box.attr("x", boxLeft).attr("y", boxTop)
    .attr("width", boxRight - boxLeft).attr("height", boxH)
    .attr("rx", 4).attr("ry", 4)
    .attr("fill", "#fff").attr("fill-opacity", 0.8)
    .attr("stroke", "#cccccc").attr("stroke-width", 1);

  const rowY = k => boxTop + 16 + k * rowH;
  texts.attr("x", boxLeft + 6 + handleLen + 16)
    .attr("y", (d, k) => rowY(k))
    .attr("dy", "0.36em");
  lg.selectAll("line")
    .data(items)
    .join("line")
      .attr("x1", boxLeft + 6).attr("x2", boxLeft + 6 + handleLen)
      .attr("y1", (d, k) => rowY(k)).attr("y2", (d, k) => rowY(k))
      .attr("stroke", d => d.color)
      .attr("stroke-width", d => d.w);
}
</script>
</body>
</html>
